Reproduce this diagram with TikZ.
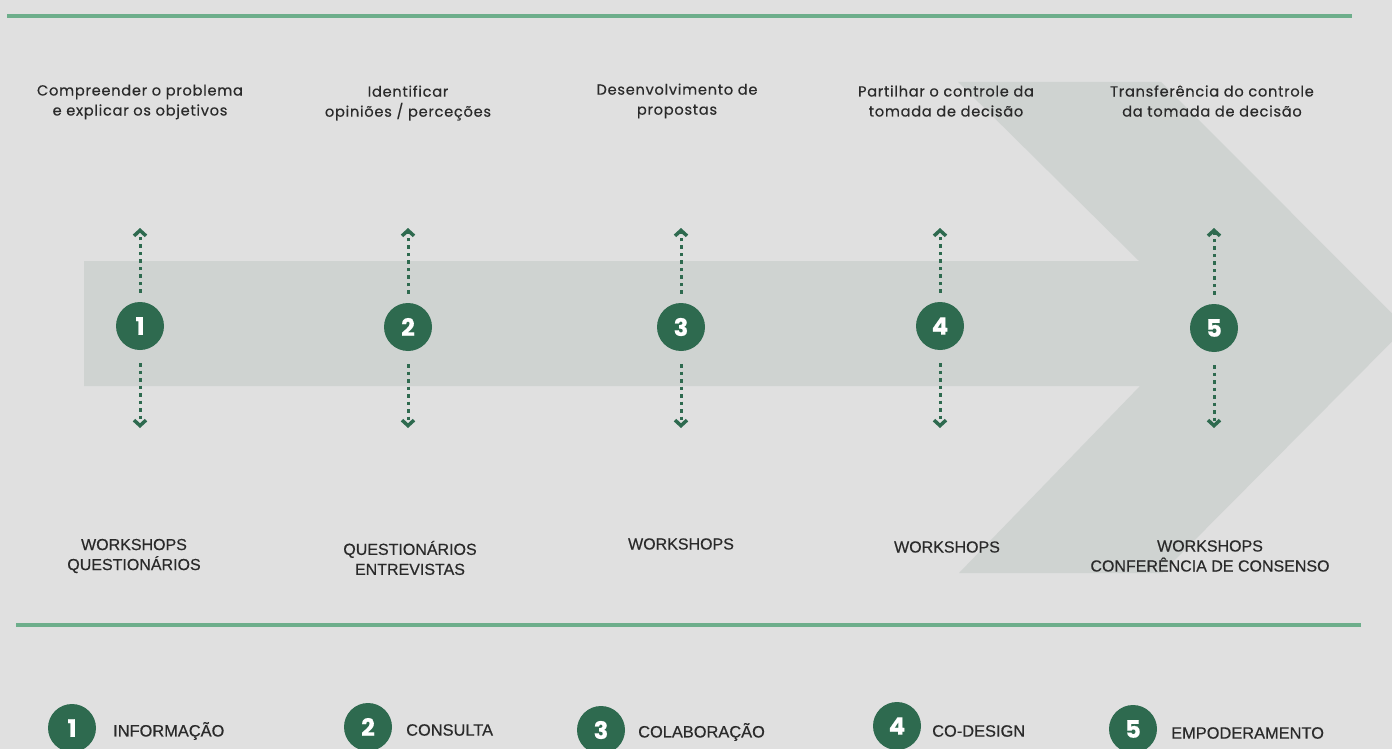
\documentclass[tikz,border=0pt]{standalone}
\usepackage{fontspec}
\usetikzlibrary{arrows.meta}
\newfontfamily\descfont{Poppins}[LetterSpace=5,FakeBold=0.35]
\newfontfamily\numfont{Poppins}[UprightFont=*, BoldFeatures={FakeBold=0.6}]
\newfontfamily\capsfont{Liberation Sans}[FakeBold=0.45]
\definecolor{bg}{HTML}{E0E0E0}
\definecolor{band}{HTML}{CFD3D1}
\definecolor{lgreen}{HTML}{6DAE8B}
\definecolor{dgreen}{HTML}{2E6A4F}
\definecolor{txt}{HTML}{2A2A2A}
\tikzset{
  numc/.style={circle, fill=dgreen, minimum size=48pt, inner sep=0pt, text=white, font=\numfont\bfseries\fontsize{24}{24}\selectfont},
  desc/.style={align=center, text=txt, font=\descfont\fontsize{14.6}{20}\selectfont, inner sep=0pt},
  capt/.style={align=center, text=txt, font=\capsfont\fontsize{16}{20}\selectfont, inner sep=0pt},
  legt/.style={anchor=west, text=txt, font=\capsfont\fontsize{16.4}{20}\selectfont, inner sep=0pt},
  darr/.style={draw=dgreen, line width=3pt, dash pattern=on 3.5pt off 4pt,
     -{Straight Barb[length=5.5pt,width=12pt,line width=3.5pt]}},
  rule/.style={draw=lgreen, line width=4.5pt}
}
\begin{document}
\begin{tikzpicture}[x=1pt,y=-1pt]
\useasboundingbox (0,0) rectangle (1392,749);
\fill[bg] (0,0) rectangle (1392,749);
\begin{scope}
\clip (0,0) rectangle (1392,749);
\fill[band] (84,261) -- (1139,261) -- (958,82) -- (1161,82) -- (1406,327.5)
  -- (1162,573) -- (959,573) -- (1140,386) -- (84,386) -- cycle;
\end{scope}
% rules
\coordinate (r1a) at (7,16);
\coordinate (r1b) at (1352,16);
\coordinate (r2a) at (16,625);
\coordinate (r2b) at (1361,625);
\draw[rule] (r1a) -- (r1b);
\draw[rule] (r2a) -- (r2b);
% circles
\node[numc] (c1) at (140,326) {1};
\node[numc] (c2) at (408,327) {2};
\node[numc] (c3) at (681,327) {3};
\node[numc] (c4) at (940,326) {4};
\node[numc] (c5) at (1214,328) {5};
% arrows
\foreach \i/\x in {1/140,2/408,3/681,4/940,5/1214}{
  \coordinate (u\i) at (\x,228);
  \coordinate (d\i) at (\x,428);
  \draw[darr, shorten <=9pt] (c\i.north) -- (u\i);
  \draw[darr, shorten <=13pt] (c\i.south) -- (d\i);
}
% top descriptions
\node[desc] (t1) at (140,102) {Compreender o problema\\e explicar os objetivos};
\node[desc] (t2) at (408,103) {Identificar\\opiniões / perceções};
\node[desc] (t3) at (677,101) {Desenvolvimento de\\propostas};
\node[desc] (t4) at (946,101) {Partilhar o controle da\\tomada de decisão};
\node[desc] (t5) at (1212,101) {Transferência do controle\\da tomada de decisão};
% bottom captions
\node[capt] (b1) at (134,556) {WORKSHOPS\\QUESTIONÁRIOS};
\node[capt] (b2) at (410,558) {QUESTIONÁRIOS\\ENTREVISTAS};
\node[capt] (b3) at (681,544) {WORKSHOPS};
\node[capt] (b4) at (947,547) {WORKSHOPS};
\node[capt] (b5) at (1210,556) {WORKSHOPS\\CONFERÊNCIA DE CONSENSO};
% legend
\node[numc] (l1) at (72,728) {1};
\node[numc] (l2) at (368,727) {2};
\node[numc] (l3) at (601,730) {3};
\node[numc] (l4) at (897,726) {4};
\node[numc] (l5) at (1133,729) {5};
\node[legt] (n1) at (113,731) {INFORMAÇÃO};
\node[legt] (n2) at (406,730) {CONSULTA};
\node[legt] (n3) at (638,732) {COLABORAÇÃO};
\node[legt] (n4) at (932,731) {CO-DESIGN};
\node[legt] (n5) at (1171,733) {EMPODERAMENTO};
\end{tikzpicture}
\end{document}
